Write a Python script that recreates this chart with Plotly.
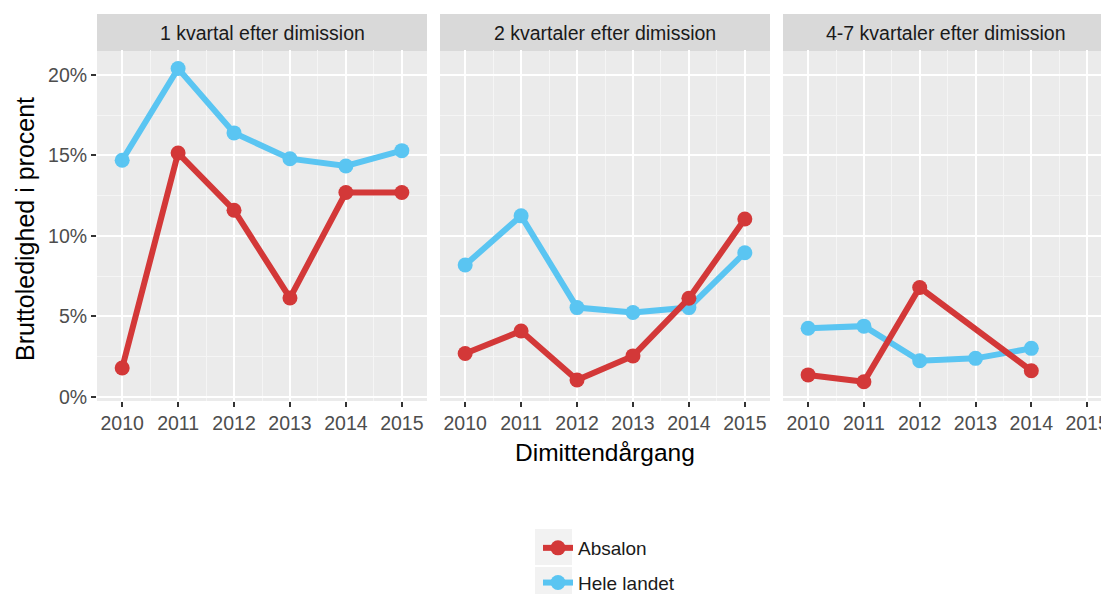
import plotly.graph_objects as go

years = [2010, 2011, 2012, 2013, 2014, 2015]
panels = ["1 kvartal efter dimission", "2 kvartaler efter dimission", "4-7 kvartaler efter dimission"]

absalon_q1 = [1.8, 15.15, 11.6, 6.15, 12.7, 12.7]
hele_q1 = [14.7, 20.4, 16.4, 14.8, 14.35, 15.3]
absalon_q2 = [2.7, 4.1, 1.05, 2.55, 6.13, 11.05]
hele_q2 = [8.2, 11.25, 5.55, 5.25, 5.55, 8.96]
absalon_q47 = [1.37, 0.95, 6.8, None, 1.63, None]
hele_q47 = [4.27, 4.4, 2.25, 2.4, 3.02, None]

y_ticks = [0, 5, 10, 15, 20]

RED = "#D33838"
BLUE = "#5AC5F2"
FONT = "Liberation Sans, Arial, sans-serif"

OFF = 8  # page body margin
W, H = 1109 - OFF, 594 - OFF
ML, MT = 97 - OFF, 50 - OFF
PB = 401 - OFF  # plot bottom in figure px
MB = H - PB
MR = 0
PW = W - ML - MR
PH = PB - MT

def px2x(p):
    # p: page pixel
    return (p - OFF - ML) / PW

def py2y(p):
    return (PB - (p - OFF)) / PH

domains = [(97, 427), (440, 770), (783, 1109)]
xranges = [[2009.55, 2015.45], [2009.55, 2015.45], [2009.55, 2009.55 + 326 / 55.8]]

fig = go.Figure()

series = [(hele_q1, absalon_q1), (hele_q2, absalon_q2), (hele_q47, absalon_q47)]
for i, (hele, absa) in enumerate(series):
    xa = "x" if i == 0 else f"x{i+1}"
    fig.add_trace(go.Scatter(
        x=years, y=hele, mode="lines+markers", name="Hele landet",
        line=dict(color=BLUE, width=6), marker=dict(color=BLUE, size=15),
        xaxis=xa, yaxis="y", connectgaps=True,
        legendgroup="hele", legendrank=2, showlegend=(i == 0)))
    fig.add_trace(go.Scatter(
        x=years, y=absa, mode="lines+markers", name="Absalon",
        line=dict(color=RED, width=6), marker=dict(color=RED, size=15),
        xaxis=xa, yaxis="y", connectgaps=True,
        legendgroup="absa", legendrank=1, showlegend=(i == 0)))

axis_common = dict(
    showgrid=True, gridcolor="white", gridwidth=2,
    zeroline=False, showline=False,
    ticks="outside", ticklen=5, tickwidth=1.5, tickcolor="#333333",
    tickfont=dict(family=FONT, size=19.5, color="#4D4D4D"),
)

layout = dict(
    width=W, height=H,
    margin=dict(l=ML, r=MR, t=MT, b=MB, pad=0, autoexpand=False),
    paper_bgcolor="white", plot_bgcolor="#EBEBEB",
    font=dict(family=FONT),
    showlegend=True,
    legend=dict(
        x=px2x(538), y=py2y(529), xanchor="left", yanchor="top",
        orientation="v", traceorder="grouped", tracegroupgap=7,
        font=dict(family=FONT, size=19, color="#1A1A1A"),
        bgcolor="rgba(0,0,0,0)", itemwidth=30,
    ),
    yaxis=dict(
        range=[-0.25, 21.55], tickvals=y_ticks,
        ticktext=[f"{v}%" for v in y_ticks],
        minor=dict(tickvals=[2.5, 7.5, 12.5, 17.5], showgrid=True, gridcolor="#F5F5F5", gridwidth=1, ticks=""),
        anchor="x", **axis_common),
)
for i, (d, r) in enumerate(zip(domains, xranges)):
    key = "xaxis" if i == 0 else f"xaxis{i+1}"
    layout[key] = dict(
        domain=[max(0, px2x(d[0])), min(1, px2x(d[1]))], range=r, tickvals=years,
        ticktext=[str(y) for y in years], anchor="y",
        minor=dict(tickvals=[2009.5 + k for k in range(7)], showgrid=True, gridcolor="#F5F5F5", gridwidth=1, ticks=""),
        **axis_common)

fig.update_layout(**layout)

shapes = []
annotations = []
for i, (d, label) in enumerate(zip(domains, panels)):
    shapes.append(dict(type="rect", xref="paper", yref="paper",
                       x0=px2x(d[0]), x1=min(1, px2x(d[1])), y0=py2y(51), y1=py2y(14),
                       fillcolor="#D9D9D9", line=dict(width=0), layer="below"))
    annotations.append(dict(text=label, xref="paper", yref="paper",
                            x=px2x((d[0] + d[1]) / 2), y=py2y(33),
                            xanchor="center", yanchor="middle", showarrow=False,
                            font=dict(family=FONT, size=19.5, color="#1A1A1A")))

# legend key backgrounds
for y0, y1 in [(529, 565), (567, 603)]:
    shapes.append(dict(type="rect", xref="paper", yref="paper",
                       x0=px2x(535), x1=px2x(572), y0=py2y(y1), y1=py2y(y0),
                       fillcolor="#F2F2F2", line=dict(width=0), layer="below"))

annotations.append(dict(text="Bruttoledighed i procent", xref="paper", yref="paper",
                        x=px2x(25), y=py2y(229), textangle=-90,
                        xanchor="center", yanchor="middle", showarrow=False,
                        font=dict(family=FONT, size=25, color="#000000")))
annotations.append(dict(text="Dimittendårgang", xref="paper", yref="paper",
                        x=px2x(605), y=py2y(452),
                        xanchor="center", yanchor="middle", showarrow=False,
                        font=dict(family=FONT, size=24.5, color="#000000")))

fig.update_layout(shapes=shapes, annotations=annotations)

fig.write_html("out.html")
